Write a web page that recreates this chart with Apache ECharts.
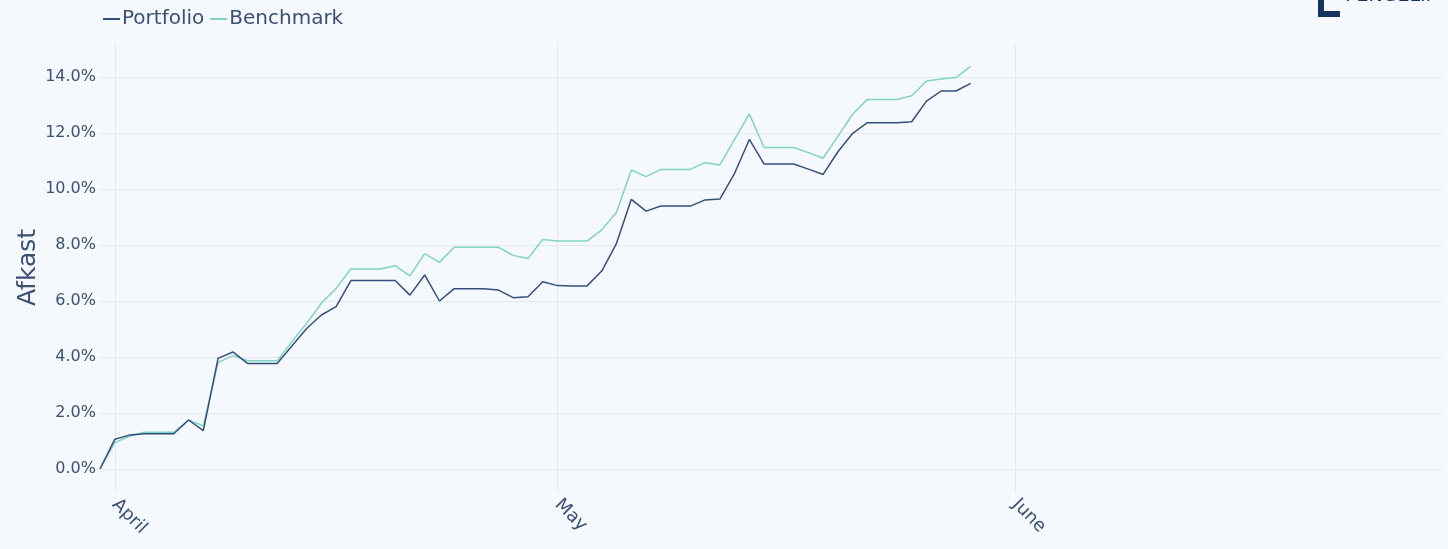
<!DOCTYPE html>
<html lang="da">
<head>
    <meta charset="UTF-8">
    <title>Afkast</title>
    <style>
        html, body { margin: 0; padding: 0; background: #f5f8fd; }
        #main { width: 1448px; height: 549px; }
    </style>
</head>
<body>
    <div id="main"></div>
    <script src="https://cdn.jsdelivr.net/npm/echarts@6/dist/echarts.min.js"></script>
    <script type="text/javascript">
        // data, one point per calendar day from 31 March
        var startDate = '2020-03-31';
        var axisStart = '2020-03-31';
        var axisEnd = '2020-06-30';
        var monthNames = ['January', 'February', 'March', 'April', 'May', 'June',
            'July', 'August', 'September', 'October', 'November', 'December'];

        var portfolio = [
            0.00, 1.06, 1.21, 1.26, 1.26, 1.26, 1.75, 1.37, 3.95, 4.18,
            3.77, 3.77, 3.77, 4.39, 5.02, 5.50, 5.80, 6.73, 6.73, 6.73,
            6.73, 6.21, 6.93, 6.00, 6.44, 6.44, 6.44, 6.39, 6.12, 6.15,
            6.69, 6.55, 6.54, 6.54, 7.07, 8.06, 9.63, 9.21, 9.39, 9.39,
            9.39, 9.61, 9.64, 10.56, 11.77, 10.89, 10.89, 10.89, 10.71, 10.52,
            11.33, 11.99, 12.37, 12.37, 12.37, 12.40, 13.14, 13.50, 13.50, 13.77
        ];
        var benchmark = [
            0.00, 0.94, 1.17, 1.31, 1.31, 1.31, 1.75, 1.54, 3.80, 4.05,
            3.87, 3.87, 3.87, 4.55, 5.20, 5.92, 6.45, 7.14, 7.14, 7.14,
            7.26, 6.90, 7.69, 7.38, 7.92, 7.92, 7.92, 7.92, 7.63, 7.52,
            8.20, 8.14, 8.14, 8.14, 8.54, 9.17, 10.68, 10.44, 10.70, 10.70,
            10.70, 10.94, 10.86, 11.77, 12.68, 11.48, 11.48, 11.48, 11.30, 11.10,
            11.89, 12.67, 13.20, 13.20, 13.20, 13.33, 13.86, 13.93, 13.98, 14.39
        ];

        var seriesNames = ['Portfolio', 'Benchmark'];
        var colors = ['#34507a', '#80d4c2'];
        var textColor = '#3d4f72';
        var gridColor = '#e4e8ef';
        var fontFamily = '"DejaVu Sans", sans-serif';

        function pairs(values) {
            var t0 = new Date(startDate + 'T00:00:00').getTime();
            var out = [];
            for (var i = 0; i < values.length; i++) {
                out.push([t0 + i * 86400000, values[i]]);
            }
            return out;
        }

        var xMin = new Date(axisStart + 'T00:00:00').getTime();
        var xMax = new Date(axisEnd + 'T00:00:00').getTime();

        var myChart = echarts.init(document.getElementById('main'));

        var option = {
            backgroundColor: '#f5f8fd',
            textStyle: { fontFamily: fontFamily },
            animation: false,
            color: colors,
            legend: {
                left: 98,
                top: 4,
                itemGap: 6,
                itemWidth: 17,
                itemHeight: 2,
                icon: 'rect',
                data: seriesNames,
                textStyle: { color: textColor, fontSize: 20, fontFamily: fontFamily, padding: [0, 0, 0, -3] }
            },
            grid: [
                // outer grid: month lines that run past the value range, axis title
                { left: 100, right: 5, top: 43, bottom: 57 },
                { left: 100, right: 5, top: 77, bottom: 80 }
            ],
            xAxis: [{
                type: 'time',
                gridIndex: 0,
                min: xMin,
                max: xMax,
                splitNumber: 3,
                axisLine: { show: false },
                axisTick: { show: false },
                splitLine: {
                    show: true,
                    showMinLine: false,
                    showMaxLine: false,
                    lineStyle: { color: gridColor, width: 1 }
                },
                axisLabel: {
                    rotate: -45,
                    margin: 10,
                    color: textColor,
                    fontSize: 18,
                    fontFamily: fontFamily,
                    showMinLabel: false,
                    showMaxLabel: false,
                    formatter: function (v) {
                        return monthNames[new Date(v).getMonth()];
                    }
                }
            }, {
                type: 'time',
                gridIndex: 1,
                min: xMin,
                max: xMax,
                show: false
            }],
            yAxis: [{
                type: 'value',
                gridIndex: 0,
                min: 0,
                max: 1,
                name: 'Afkast',
                nameLocation: 'middle',
                nameGap: 59,
                nameTextStyle: { color: textColor, fontSize: 25, fontFamily: fontFamily },
                axisLine: { show: false },
                axisTick: { show: false },
                axisLabel: { show: false },
                splitLine: { show: false }
            }, {
                type: 'value',
                gridIndex: 1,
                min: 0,
                max: 14,
                interval: 2,
                axisLine: { show: false },
                axisTick: { show: false },
                splitLine: { lineStyle: { color: gridColor, width: 1 } },
                axisLabel: {
                    color: textColor,
                    fontSize: 16,
                    margin: 4,
                    fontFamily: fontFamily,
                    formatter: function (v) { return v.toFixed(1) + '%'; }
                }
            }],
            series: [{
                name: seriesNames[0],
                type: 'line',
                xAxisIndex: 1,
                yAxisIndex: 1,
                showSymbol: false,
                clip: false,
                z: 3,
                lineStyle: { width: 1.5, color: colors[0] },
                data: pairs(portfolio)
            }, {
                name: seriesNames[1],
                type: 'line',
                xAxisIndex: 1,
                yAxisIndex: 1,
                showSymbol: false,
                clip: false,
                z: 2,
                lineStyle: { width: 1.5, color: colors[1] },
                data: pairs(benchmark)
            }],
            graphic: [{
                type: 'group',
                x: 1318,
                y: 0,
                children: [
                    { type: 'rect', shape: { x: 0, y: -2, width: 6, height: 19 }, style: { fill: '#16335f' } },
                    { type: 'rect', shape: { x: 0, y: 11, width: 22, height: 6 }, style: { fill: '#16335f' } },
                    { type: 'text', x: 27, y: -13, style: { text: 'PENGELIP', fill: '#16335f', fontSize: 19, fontFamily: fontFamily } }
                ]
            }]
        };

        myChart.setOption(option);
    </script>
</body>
</html>
